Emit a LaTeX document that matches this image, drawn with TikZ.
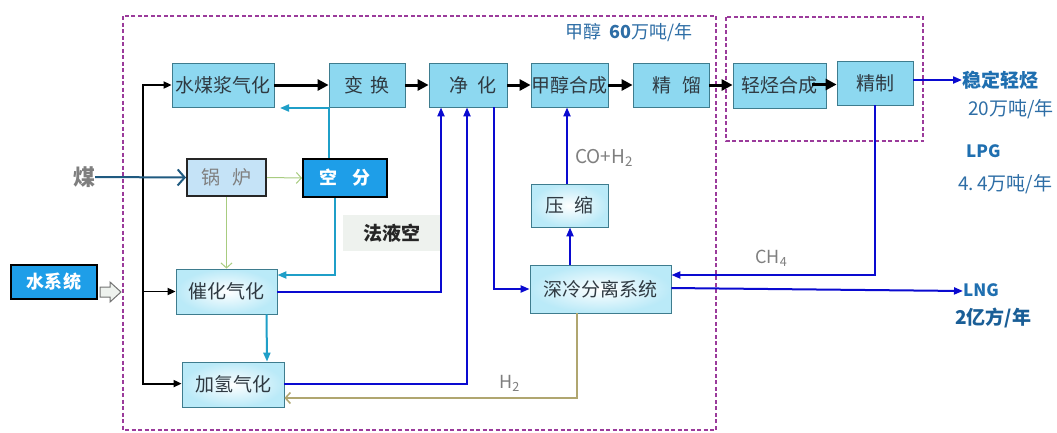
\documentclass[tikz,border=0pt]{standalone}
\usepackage{fontspec}
\setmainfont{Noto Sans CJK SC}
\usetikzlibrary{arrows.meta}
\definecolor{boxfill}{HTML}{8DD8F0}
\definecolor{boxline}{HTML}{3E7C8E}
\definecolor{boxtext}{HTML}{2F3A42}
\definecolor{litefill}{HTML}{CDF1FB}
\definecolor{bright}{HTML}{1E9EE8}
\definecolor{boilfill}{HTML}{C5E3F7}
\definecolor{dashc}{HTML}{9B3B9B}
\definecolor{blueln}{HTML}{0A0AD0}
\definecolor{tealln}{HTML}{1F9FC8}
\definecolor{greenln}{HTML}{A8CC80}
\definecolor{coalln}{HTML}{1F5A80}
\definecolor{oliveln}{HTML}{B0A670}
\definecolor{labblue}{HTML}{2E6EA6}
\definecolor{prodblue}{HTML}{1F6FB0}
\definecolor{grayt}{HTML}{7F7F7F}
\definecolor{fykbg}{HTML}{EEF2EE}
\tikzset{
  boxbase/.style={draw=boxline, line width=0.8pt, text=boxtext, inner sep=0pt,
    font=\fontsize{19pt}{21pt}\selectfont},
  topbox/.style={boxbase, fill=boxfill},
  litebox/.style={boxbase, inner color=white, outer color=litefill!70!boxfill},
  brightbox/.style={draw=black, line width=2pt, fill=bright, text=white, inner sep=0pt,
    font=\fontsize{18pt}{20pt}\selectfont\bfseries},
  dashbox/.style={draw=dashc, line width=1.3pt, dash pattern=on 4pt off 2.5pt},
  blk/.style={draw=black, line width=3pt, -{Triangle[length=11pt,width=11pt]}},
  blkthin/.style={draw=black, line width=1.8pt, -{Triangle[length=8pt,width=7pt]}},
  blu/.style={draw=blueln, line width=2pt, -{Triangle[length=9pt,width=7pt]}},
  tea/.style={draw=tealln, line width=2pt, -{Triangle[length=9pt,width=7pt]}},
  grn/.style={draw=greenln, line width=1pt, -{Straight Barb[length=5pt,width=11pt]}},
  olv/.style={draw=oliveln, line width=1.5pt, -{Straight Barb[length=5pt,width=11pt]}},
  lab/.style={inner sep=0pt, font=\fontsize{18pt}{20pt}\selectfont}
}
\begin{document}
\begin{tikzpicture}[x=1pt,y=-1pt]
\useasboundingbox (0,0) rectangle (1057,432);
\fill[white] (0,0) rectangle (1057,432);
% dashed frames
\draw[dashbox] (123,16) rectangle (716,430);
\draw[dashbox] (726,17) rectangle (923,141);
% top row
\node[topbox, minimum width=102pt, minimum height=44pt] (sm) at (223,85) {水煤浆气化};
\node[topbox, minimum width=76pt, minimum height=44pt] (bh) at (367,85) {变\hspace{0.4em}换};
\node[topbox, minimum width=78pt, minimum height=44pt] (jh) at (468,85) {\hspace{10pt}净\hspace{0.5em}化};
\node[topbox, minimum width=77pt, minimum height=44pt] (jc) at (569.5,85) {甲醇合成};
\node[topbox, minimum width=76pt, minimum height=44pt] (jl) at (671,85) {\hspace{12pt}精\hspace{0.6em}馏};
\node[topbox, minimum width=93pt, minimum height=45pt] (qt) at (779.5,85.5) {轻烃合成};
\node[topbox, minimum width=76pt, minimum height=44pt] (jz) at (875,83) {精制\hspace{14pt}};
% second row
\node[boxbase, draw=black!85, line width=2pt, fill=boilfill, text=grayt, minimum width=79pt, minimum height=37pt] (gl) at (226.5,177.5) {锅\hspace{0.6em}炉};
\node[brightbox, minimum width=84pt, minimum height=38pt] (kf) at (345,178) {空\hspace{0.8em}分};
\node[fill=fykbg, inner sep=0pt, minimum width=97pt, minimum height=36pt, font=\fontsize{19pt}{21pt}\selectfont\bfseries, text=black!85] (fyk) at (391.5,233) {法液空};
\node[litebox, minimum width=77pt, minimum height=43pt] (ys) at (569.5,205.5) {压\hspace{0.5em}缩};
% lower
\node[litebox, minimum width=101pt, minimum height=45pt] (ch) at (226.5,291.5) {催化气化};
\node[litebox, minimum width=102pt, minimum height=45pt] (jq) at (233,384.5) {加氢气化};
\node[litebox, minimum width=141pt, minimum height=48pt] (sl) at (600.5,289) {深冷分离系统\hspace{6pt}};
\node[brightbox, minimum width=86pt, minimum height=34pt] (sx) at (54,282) {水系统};
% hollow arrow from water system
\draw[draw=black!55, fill=fykbg, line width=1pt]
  ([xshift=2pt,yshift=-5pt]sx.east) -- ++(10,0) -- ++(0,-5) -- ++(11,10) -- ++(-11,10) -- ++(0,-5) -- ++(-10,0) -- cycle;
% labels
\node[lab, text=grayt, font=\fontsize{22pt}{24pt}\selectfont\bfseries] (coal) at (84,177) {煤};
\node[lab, text=labblue, anchor=west] (meth) at (565,33) {甲醇\hspace{8pt}\textbf{60}万吨/年};
\node[lab, text=grayt, anchor=west, font=\fontsize{19pt}{21pt}\selectfont] (coh) at (575,158) {CO+H\textsubscript{2}};
\node[lab, text=prodblue, anchor=west, font=\fontsize{19pt}{21pt}\selectfont\bfseries] (wd) at (962,80) {稳定轻烃};
\node[lab, text=labblue, anchor=west, font=\fontsize{19pt}{21pt}\selectfont] (wdq) at (968,109) {20万吨/年};
\node[lab, text=prodblue, anchor=west, font=\fontsize{17pt}{19pt}\selectfont\bfseries] (lpg) at (966,151) {LPG};
\node[lab, text=labblue, anchor=west, font=\fontsize{19pt}{21pt}\selectfont] (lpgq) at (958,184) {4.\,4万吨/年};
\node[lab, text=grayt, anchor=west] (ch4) at (755,258) {CH\textsubscript{4}};
\node[lab, text=prodblue, anchor=west, font=\fontsize{17pt}{19pt}\selectfont\bfseries] (lng) at (963,290) {LNG};
\node[lab, text=prodblue!85!black, anchor=west, font=\fontsize{19pt}{21pt}\selectfont\bfseries] (lngq) at (955,318) {2亿方/年};
\node[lab, text=grayt, anchor=west] (h2) at (499,383) {H\textsubscript{2}};
% main black chain
\draw[blk] (sm) -- (bh);
\draw[blk] (bh) -- (jh);
\draw[blk] (jh) -- (jc);
\draw[blk] (jc) -- (jl);
\draw[blk] (jl.east) -- (qt.west|-jl.east);
\draw[blk] ([xshift=-14pt,yshift=1pt]qt.east) -- ([yshift=1pt]jz.west|-qt.east);
% trunk
\coordinate (t1) at (143,85);
\coordinate (t3) at (143,384.5);
\draw[black, line width=1.8pt] (t1) -- (t3);
\draw[blkthin] ([xshift=-0.9pt]t1) -- (sm.west);
\draw[blkthin] (t1|-ch.west) -- (ch.west);
\draw[blkthin] ([yshift=0.9pt]t3) -- ([yshift=0.9pt]jq.west);
% coal and boiler
\draw[coalln, line width=2pt, -{Straight Barb[length=7pt,width=16pt]}] (coal.east) -- (gl.west);
\draw[grn] (gl.east) -- (kf.west);
\draw[grn] (gl.south) -- (gl.south|-ch.north);
% air separation
\coordinate (a1) at (329,108);
\draw[tea] (kf.north-|a1) -- (a1) -- (280,108);
\coordinate (a2) at (335,275);
\draw[tea] (kf.south-|a2) -- (a2) -- (ch.east|-a2);
\draw[tea] ([xshift=40pt]ch.south) -- ([xshift=34pt]jq.north);
% blue flows
\coordinate (b1) at (441,291.5);
\draw[blu] (ch.east) -- (b1) -- (b1|-jh.south);
\coordinate (b2) at (467,384);
\draw[blu] (jq.east|-b2) -- (b2) -- (b2|-jh.south);
\coordinate (b3) at (494,289);
\draw[blu] (b3|-jh.south) -- (b3) -- (sl.west);
\draw[blu] (sl.north-|570,0) -- (ys.south-|570,0);
\draw[blu] (ys.north-|567,0) -- (jc.south-|567,0);
\coordinate (b4) at (875,275);
\draw[blu] (jz.south) -- (b4) -- (sl.east|-b4);
\draw[blu] ([yshift=1pt]sl.east) -- ([yshift=-1pt]lng.west);
\draw[blu] (jz.east|-wd.west) -- (wd.west);
% hydrogen return
\coordinate (h1) at (577,398);
\draw[olv] (sl.south-|h1) -- (h1) -- (jq.east|-h1);
\end{tikzpicture}
\end{document}
